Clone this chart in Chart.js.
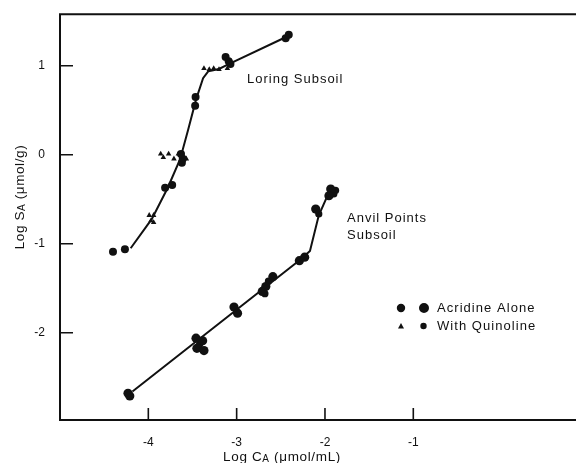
<!DOCTYPE html>
<html>
<head>
<meta charset="utf-8">
<script src="https://cdn.jsdelivr.net/npm/chart.js@4/dist/chart.umd.min.js"></script>
<style>
  html, body { margin: 0; padding: 0; background: #fff; }
  canvas { display: block; }
</style>
</head>
<body>
<canvas id="chart" width="576" height="463"></canvas>
<script>
const INK = "#111";
const FONT = "'Liberation Sans', Arial, Helvetica, sans-serif";

const X_TICKS = [-4, -3, -2, -1];
const Y_TICKS = [-2, -1, 0, 1];

// Loring subsoil
const loringAlone = [
  [-4.40, -1.09], [-4.265, -1.06], [-3.81, -0.37], [-3.73, -0.34],
  [-3.63, 0.01], [-3.61, -0.045], [-3.62, -0.09], [-3.465, 0.65],
  [-3.47, 0.55], [-3.125, 1.10], [-3.09, 1.05], [-3.07, 1.02],
  [-2.445, 1.31], [-2.41, 1.35],
];
const loringQuinoline = [
  [-3.99, -0.68], [-3.94, -0.68], [-3.97, -0.74], [-3.94, -0.76],
  [-3.86, 0.01], [-3.83, -0.03], [-3.77, 0.01], [-3.71, -0.045],
  [-3.66, 0.01], [-3.57, -0.045], [-3.37, 0.97], [-3.31, 0.96],
  [-3.26, 0.97], [-3.20, 0.96], [-3.105, 0.97],
];
const loringCurve = [
  [-4.20, -1.05], [-3.96, -0.72], [-3.78, -0.37], [-3.64, -0.05],
  [-3.55, 0.28], [-3.46, 0.62], [-3.38, 0.86], [-3.32, 0.94],
  [-3.20, 0.965], [-3.09, 1.02], [-2.47, 1.31],
];

// Anvil Points subsoil
const anvilAlone = [
  [-4.23, -2.68], [-4.21, -2.71], [-3.46, -2.06], [-3.385, -2.09],
  [-3.45, -2.175], [-3.37, -2.20], [-3.03, -1.71], [-2.99, -1.78],
  [-2.71, -1.535], [-2.67, -1.48], [-2.59, -1.37], [-2.29, -1.19],
  [-2.23, -1.15], [-2.105, -0.61], [-1.935, -0.385], [-1.955, -0.46],
];
const anvilQuinoline = [
  [-3.42, -2.13], [-2.68, -1.56], [-2.64, -1.42], [-2.07, -0.665],
  [-1.88, -0.40], [-1.90, -0.44],
];
const anvilCurve = [
  [-4.18, -2.66], [-2.27, -1.17], [-2.17, -1.08], [-2.07, -0.68],
  [-1.95, -0.41],
];

const pts = (arr) => arr.map(([x, y]) => ({ x, y }));

// draws main text + subscript + rest, centred on (0,0) of current transform
function drawSubLabel(ctx, main, sub, rest, size, spacing) {
  const big = `${size}px ${FONT}`;
  const small = `${Math.round(size * 0.72)}px ${FONT}`;
  ctx.letterSpacing = spacing + "px";
  ctx.font = big;
  const w1 = ctx.measureText(main).width;
  const w3 = ctx.measureText(rest).width;
  ctx.font = small;
  const w2 = ctx.measureText(sub).width;
  let x = -(w1 + w2 + w3) / 2;
  ctx.textBaseline = "middle";
  ctx.textAlign = "left";
  ctx.font = big;
  ctx.fillText(main, x, 0);
  x += w1;
  ctx.font = small;
  ctx.fillText(sub, x, size * 0.18);
  x += w2;
  ctx.font = big;
  ctx.fillText(rest, x, 0);
  ctx.letterSpacing = "0px";
}

const decorations = {
  id: "decorations",
  afterDraw(chart) {
    const { ctx, chartArea: a, scales } = chart;
    const right = chart.width;
    ctx.save();
    ctx.strokeStyle = INK;
    ctx.fillStyle = INK;
    ctx.lineWidth = 2;

    // frame: left, top, bottom
    ctx.beginPath();
    ctx.moveTo(right, a.top);
    ctx.lineTo(a.left, a.top);
    ctx.lineTo(a.left, a.bottom);
    ctx.lineTo(right, a.bottom);
    ctx.stroke();

    // inward ticks
    ctx.lineWidth = 1.6;
    ctx.beginPath();
    for (const t of scales.x.ticks) {
      const px = scales.x.getPixelForValue(t.value);
      ctx.moveTo(px, a.bottom);
      ctx.lineTo(px, a.bottom - 12);
    }
    for (const t of scales.y.ticks) {
      const py = scales.y.getPixelForValue(t.value);
      ctx.moveTo(a.left, py);
      ctx.lineTo(a.left + 13, py);
    }
    ctx.stroke();

    // axis titles
    ctx.save();
    ctx.translate(282, 457);
    drawSubLabel(ctx, "Log C", "A", " (\u03bcmol/mL)", 13.5, 0.65);
    ctx.restore();
    ctx.save();
    ctx.translate(20, 197);
    ctx.rotate(-Math.PI / 2);
    drawSubLabel(ctx, "Log S", "A", " (\u03bcmol/g)", 13.5, 0.6);
    ctx.restore();

    // curve labels
    ctx.font = `13px ${FONT}`;
    ctx.letterSpacing = "1px";
    ctx.textAlign = "left";
    ctx.textBaseline = "middle";
    ctx.fillText("Loring Subsoil", 247, 79);
    ctx.fillText("Anvil Points", 347, 218);
    ctx.fillText("Subsoil", 347, 235);

    // key
    ctx.letterSpacing = "1.05px";
    ctx.fillText("Acridine Alone", 437, 308);
    ctx.fillText("With Quinoline", 437, 326);
    ctx.letterSpacing = "0px";
    ctx.beginPath();
    ctx.arc(401, 308, 4.2, 0, Math.PI * 2);
    ctx.arc(424, 308, 5, 0, Math.PI * 2);
    ctx.fill();
    ctx.beginPath();
    ctx.arc(423.5, 326, 3.2, 0, Math.PI * 2);
    ctx.fill();
    ctx.beginPath();
    ctx.moveTo(401, 323);
    ctx.lineTo(404, 328.5);
    ctx.lineTo(398, 328.5);
    ctx.closePath();
    ctx.fill();

    ctx.restore();
  },
};

const lineSet = (data) => ({
  data: pts(data),
  showLine: true,
  borderColor: INK,
  borderWidth: 2,
  pointRadius: 0,
  tension: 0,
});
const markSet = (data, style, radius) => ({
  data: pts(data),
  showLine: false,
  pointStyle: style,
  pointRadius: radius,
  backgroundColor: INK,
  borderColor: INK,
  borderWidth: 0,
});

new Chart(document.getElementById("chart"), {
  type: "scatter",
  data: {
    datasets: [
      lineSet(loringCurve),
      lineSet(anvilCurve),
      markSet(loringAlone, "circle", 4),
      markSet(loringQuinoline, "triangle", 3.2),
      markSet(anvilAlone, "circle", 4.6),
      markSet(anvilQuinoline, "circle", 3.6),
    ],
  },
  options: {
    responsive: false,
    animation: false,
    layout: { padding: { top: 13, right: 0, left: 0, bottom: 0 } },
    plugins: { legend: { display: false }, tooltip: { enabled: false } },
    scales: {
      x: {
        type: "linear",
        min: -5,
        max: 0.79,
        afterBuildTicks: (s) => { s.ticks = X_TICKS.map((v) => ({ value: v })); },
        afterFit: (s) => { s.height = 43; },
        grid: { display: false },
        border: { display: false },
        ticks: {
          color: INK,
          padding: 7,
          maxRotation: 0,
          font: { family: FONT, size: 12 },
          callback: (v) => String(v),
        },
      },
      y: {
        type: "linear",
        min: -2.98,
        max: 1.58,
        afterBuildTicks: (s) => { s.ticks = Y_TICKS.map((v) => ({ value: v })); },
        afterFit: (s) => { s.width = 60; },
        grid: { display: false },
        border: { display: false },
        ticks: {
          color: INK,
          padding: 7,
          font: { family: FONT, size: 12 },
          callback: (v) => String(v),
        },
      },
    },
  },
  plugins: [decorations],
});
</script>
</body>
</html>
